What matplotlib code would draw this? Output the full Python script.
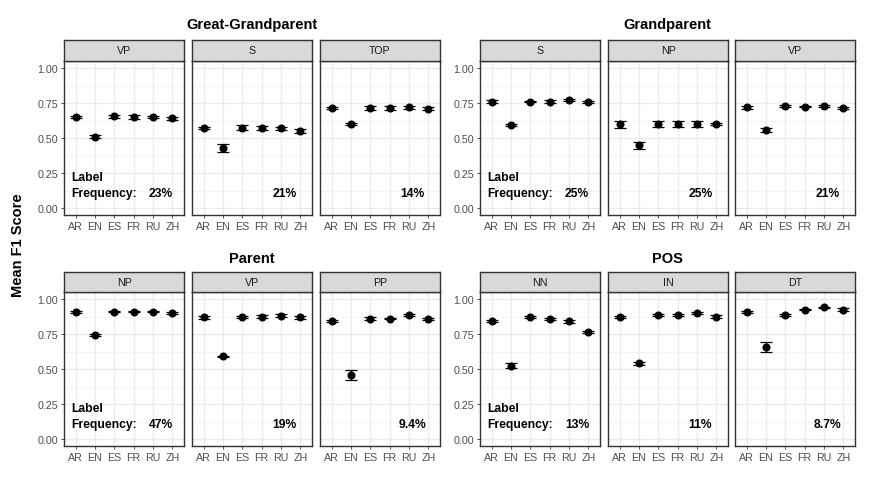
import matplotlib.pyplot as plt
from matplotlib.ticker import MultipleLocator, FuncFormatter

plt.rcParams['font.family'] = ['Liberation Sans', 'DejaVu Sans']

languages = ["AR", "EN", "ES", "FR", "RU", "ZH"]
groups = ["Great-Grandparent", "Grandparent", "Parent", "POS"]
panel_labels = [["VP", "S", "TOP"], ["S", "NP", "VP"],
                ["NP", "VP", "PP"], ["NN", "IN", "DT"]]
frequencies = [["23%", "21%", "14%"], ["25%", "25%", "21%"],
               ["47%", "19%", "9.4%"], ["13%", "11%", "8.7%"]]

# mean F1 per language, one list per panel
gg_means = [[0.650, 0.510, 0.655, 0.650, 0.650, 0.640],
            [0.570, 0.430, 0.575, 0.570, 0.570, 0.550],
            [0.715, 0.600, 0.715, 0.715, 0.720, 0.710]]
gg_errs = [[0.010, 0.012, 0.010, 0.012, 0.008, 0.008],
           [0.006, 0.028, 0.020, 0.015, 0.010, 0.015],
           [0.008, 0.008, 0.015, 0.013, 0.010, 0.008]]
g_means = [[0.760, 0.595, 0.760, 0.760, 0.770, 0.755],
           [0.600, 0.450, 0.600, 0.600, 0.600, 0.600],
           [0.720, 0.560, 0.730, 0.725, 0.730, 0.715]]
g_errs = [[0.008, 0.008, 0.006, 0.008, 0.006, 0.008],
          [0.025, 0.025, 0.020, 0.020, 0.020, 0.010],
          [0.010, 0.015, 0.006, 0.006, 0.008, 0.010]]
p_means = [[0.905, 0.745, 0.910, 0.910, 0.910, 0.900],
           [0.870, 0.590, 0.870, 0.875, 0.880, 0.870],
           [0.845, 0.460, 0.860, 0.860, 0.885, 0.855]]
p_errs = [[0.008, 0.006, 0.006, 0.006, 0.006, 0.008],
          [0.010, 0.006, 0.008, 0.008, 0.010, 0.010],
          [0.006, 0.035, 0.008, 0.006, 0.008, 0.006]]
pos_means = [[0.845, 0.525, 0.870, 0.855, 0.840, 0.765],
             [0.870, 0.540, 0.885, 0.885, 0.900, 0.875],
             [0.905, 0.655, 0.885, 0.925, 0.940, 0.925]]
pos_errs = [[0.008, 0.020, 0.008, 0.006, 0.008, 0.010],
            [0.006, 0.010, 0.006, 0.006, 0.006, 0.008],
            [0.006, 0.035, 0.006, 0.006, 0.006, 0.008]]

all_means = [gg_means, g_means, p_means, pos_means]
all_errs = [gg_errs, g_errs, p_errs, pos_errs]

W, H = 872, 489
fig = plt.figure(figsize=(W / 100, H / 100), dpi=100)

# panel layout in pixels
col_x = [[64, 192, 320], [480, 608, 735]]
panel_w = 120
row_y = [(41, 62, 216), (273, 293, 447)]
title_y = [25, 259]

def fig_rect(x0, y0, x1, y1):
    return [x0 / W, 1 - y1 / H, (x1 - x0) / W, (y1 - y0) / H]

for g, name in enumerate(groups):
    row = g // 2
    side = g % 2
    strip_top, plot_top, plot_bot = row_y[row]
    xs = col_x[side]
    center = (xs[0] + xs[2] + panel_w) / 2
    fig.text(center / W, 1 - title_y[row] / H, name, ha="center", va="center",
             fontsize=10.5, fontweight="bold")
    for k in range(3):
        x0 = xs[k]
        ax = fig.add_axes(fig_rect(x0, plot_top, x0 + panel_w, plot_bot))
        pos = range(1, len(languages) + 1)
        ax.errorbar(pos, all_means[g][k], yerr=all_errs[g][k], fmt="o",
                    color="black", ms=4.8, capsize=4.2, elinewidth=0.9,
                    capthick=0.9, zorder=3)
        ax.set_xlim(0.4, 6.6)
        ax.set_ylim(-0.05, 1.05)
        ax.set_xticks(list(pos))
        ax.set_xticklabels(languages)
        ax.yaxis.set_major_locator(MultipleLocator(0.25))
        ax.yaxis.set_minor_locator(MultipleLocator(0.125))
        ax.grid(True, which="major", color="#ebebeb", lw=1.0)
        ax.grid(True, which="minor", axis="y", color="#f2f2f2", lw=0.6)
        ax.set_axisbelow(True)
        ax.tick_params(axis="both", which="major", colors="#333333",
                       labelcolor="#4d4d4d", labelsize=7.7, length=2.5,
                       width=0.6, pad=2)
        ax.tick_params(axis="y", which="minor", length=0)
        if k == 0:
            ax.yaxis.set_major_formatter(FuncFormatter(lambda v, p: f"{v:.2f}"))
        else:
            ax.tick_params(axis="y", which="major", labelleft=False, length=0)
        for s in ax.spines.values():
            s.set_color("#333333")
            s.set_linewidth(1.0)
        # frequency text
        if k == 0:
            ax.text(0.8, 0.22, "Label", ha="left", va="center",
                    fontsize=8.7, fontweight="bold")
            ax.text(0.8, 0.11, "Frequency:", ha="left", va="center",
                    fontsize=8.7, fontweight="bold")
            ax.text(5.42, 0.11, frequencies[g][k], ha="center", va="center",
                    fontsize=8.7, fontweight="bold")
        else:
            ax.text(5.18, 0.11, frequencies[g][k], ha="center", va="center",
                    fontsize=8.7, fontweight="bold")
        # strip
        sax = fig.add_axes(fig_rect(x0, strip_top, x0 + panel_w, plot_top))
        sax.set_facecolor("#d9d9d9")
        sax.set_xticks([])
        sax.set_yticks([])
        for s in sax.spines.values():
            s.set_color("#333333")
            s.set_linewidth(1.0)
        sax.text(0.5, 0.5, panel_labels[g][k], transform=sax.transAxes,
                 ha="center", va="center", fontsize=7.7, color="#1a1a1a")

fig.text(18 / W, 1 - 245 / H, "Mean F1 Score", rotation=90, ha="center",
         va="center", fontsize=10.5, fontweight="bold")

plt.savefig("out.png", dpi=100)
